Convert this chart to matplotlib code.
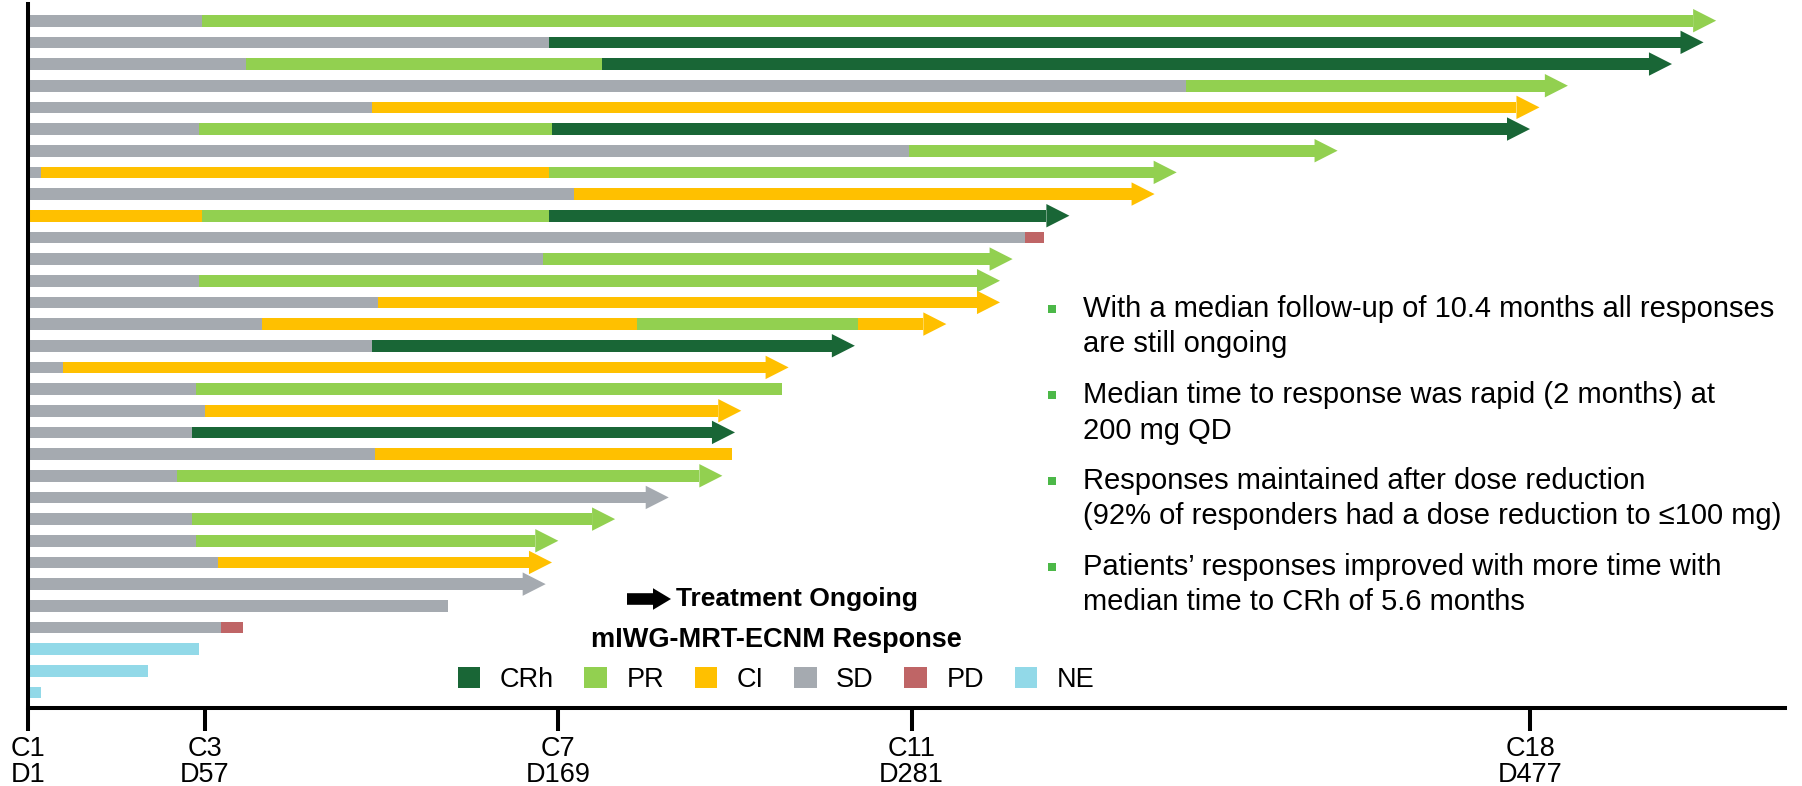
import matplotlib
matplotlib.use("Agg")
import matplotlib.pyplot as plt
from matplotlib.patches import Patch, Polygon, Rectangle

plt.rcParams['font.family'] = ['Liberation Sans', 'DejaVu Sans']

# response phases per patient, with the study day each phase ends
phases = [
    ["SD", "PR"],
    ["SD", "CRh"],
    ["SD", "PR", "CRh"],
    ["SD", "PR"],
    ["SD", "CI"],
    ["SD", "PR", "CRh"],
    ["SD", "PR"],
    ["SD", "CI", "PR"],
    ["SD", "CI"],
    ["CI", "PR", "CRh"],
    ["SD", "PD"],
    ["SD", "PR"],
    ["SD", "PR"],
    ["SD", "CI"],
    ["SD", "CI", "PR", "CI"],
    ["SD", "CRh"],
    ["SD", "CI"],
    ["SD", "PR"],
    ["SD", "CI"],
    ["SD", "CRh"],
    ["SD", "CI"],
    ["SD", "PR"],
    ["SD"],
    ["SD", "PR"],
    ["SD", "PR"],
    ["SD", "CI"],
    ["SD"],
    ["SD"],
    ["SD", "PD"],
    ["NE"],
    ["NE"],
    ["NE"],
]
phase_end = [
    [56, 536],
    [166, 532],
    [70, 183, 522],
    [368, 489],
    [110, 480],
    [55, 167, 477],
    [280, 416],
    [5, 166, 365],
    [174, 358],
    [56, 166, 331],
    [317, 323],
    [164, 313],
    [55, 309],
    [112, 309],
    [75, 194, 264, 292],
    [110, 263],
    [12, 242],
    [54, 240],
    [57, 227],
    [53, 225],
    [111, 224],
    [48, 221],
    [204],
    [53, 187],
    [54, 169],
    [61, 167],
    [165],
    [134],
    [62, 69],
    [55],
    [39],
    [5],
]
ongoing = [True] * 10 + [False] + [True] * 6 + [False] + [True, True, False] + [True] * 6 + [False] * 5

tick_days = [1, 57, 169, 281, 477]
tick_cycles = ["C1", "C3", "C7", "C11", "C18"]

resp_labels = ["CRh", "PR", "CI", "SD", "PD", "NE"]
resp_colors = ["#196636", "#92D050", "#FFC000", "#A5AAB0", "#BF6566", "#92D9E8"]
colors = dict(zip(resp_labels, resp_colors))

bullets = [
    ["With a median follow-up of 10.4 months all responses", "are still ongoing"],
    ["Median time to response was rapid (2 months) at", "200 mg QD"],
    ["Responses maintained after dose reduction",
     "(92% of responders had a dose reduction to \u2264100 mg)"],
    ["Patients\u2019 responses improved with more time with",
     "median time to CRh of 5.6 months"],
]

W, H = 1802, 786
fig = plt.figure(figsize=(W / 100, H / 100), dpi=100)
ax = fig.add_axes([28.3 / W, 1 - 708.3 / H, (1785 - 28.3) / W, (708.3 - 4) / H])

bar_h = 0.54
head_len = 7.3
head_half = 0.54
start = 1

for i, (stat, ends) in enumerate(zip(phases, phase_end)):
    left = start
    for j, (s, e) in enumerate(zip(stat, ends)):
        last = j == len(stat) - 1
        right = e - head_len if (last and ongoing[i]) else e
        ax.barh(i, right - left, left=left, height=bar_h, color=colors[s], linewidth=0)
        if last and ongoing[i]:
            tri = Polygon([[right, i - head_half], [e, i], [right, i + head_half]],
                          closed=True, facecolor=colors[s], edgecolor="none")
            ax.add_patch(tri)
        left = e

ax.set_xlim(start, 555.6 + 7 / 3.155)
ax.set_ylim(31.73, -0.77)
ax.set_yticks([])
for sp in ["top", "right"]:
    ax.spines[sp].set_visible(False)
for sp in ["left", "bottom"]:
    ax.spines[sp].set_linewidth(2.9)
ax.set_xticks(tick_days)
ax.set_xticklabels([f"{c}\nD{d}" for c, d in zip(tick_cycles, tick_days)],
                   fontsize=19.5, linespacing=1.0)
ax.tick_params(axis="x", length=16.8, width=2.9, pad=3)


def fx(px):
    return px / W


def fy(py):
    return 1 - py / H


# key findings
first_lines = [309, 395, 481, 567]
for lines, y0 in zip(bullets, first_lines):
    fig.add_artist(Rectangle((fx(1047.5), fy(y0 + 4)), 8.5 / W, 8.3 / H,
                             transform=fig.transFigure, facecolor="#4CB848",
                             edgecolor="none"))
    for k, line in enumerate(lines):
        fig.text(fx(1083), fy(y0 + 35.5 * k), line, fontsize=21, va="center", ha="left")

# ongoing treatment marker
ay = 599
arrow_pts = [(627, ay - 5.8), (653, ay - 5.8), (653, ay - 10.8), (671, ay),
             (653, ay + 10.8), (653, ay + 5.8), (627, ay + 5.8)]
fig.add_artist(Polygon([(fx(x), fy(y)) for x, y in arrow_pts], closed=True,
                       transform=fig.transFigure, facecolor="black", edgecolor="none"))
fig.text(fx(676), fy(ay), "Treatment Ongoing", fontsize=19, fontweight="bold",
         va="center", ha="left")

handles = [Patch(facecolor=c, edgecolor="none") for c in resp_colors]
leg = fig.legend(handles, resp_labels, ncol=6, loc="upper center",
                 bbox_to_anchor=(fx(776), fy(627)), frameon=False, fontsize=19.5,
                 handlelength=0.83, handleheight=0.83, handletextpad=0.72,
                 columnspacing=1.13, borderpad=0, borderaxespad=0,
                 title="mIWG-MRT-ECNM Response",
                 title_fontproperties={"weight": "bold", "size": 19.5})

fig.savefig("out.png", dpi=100)
